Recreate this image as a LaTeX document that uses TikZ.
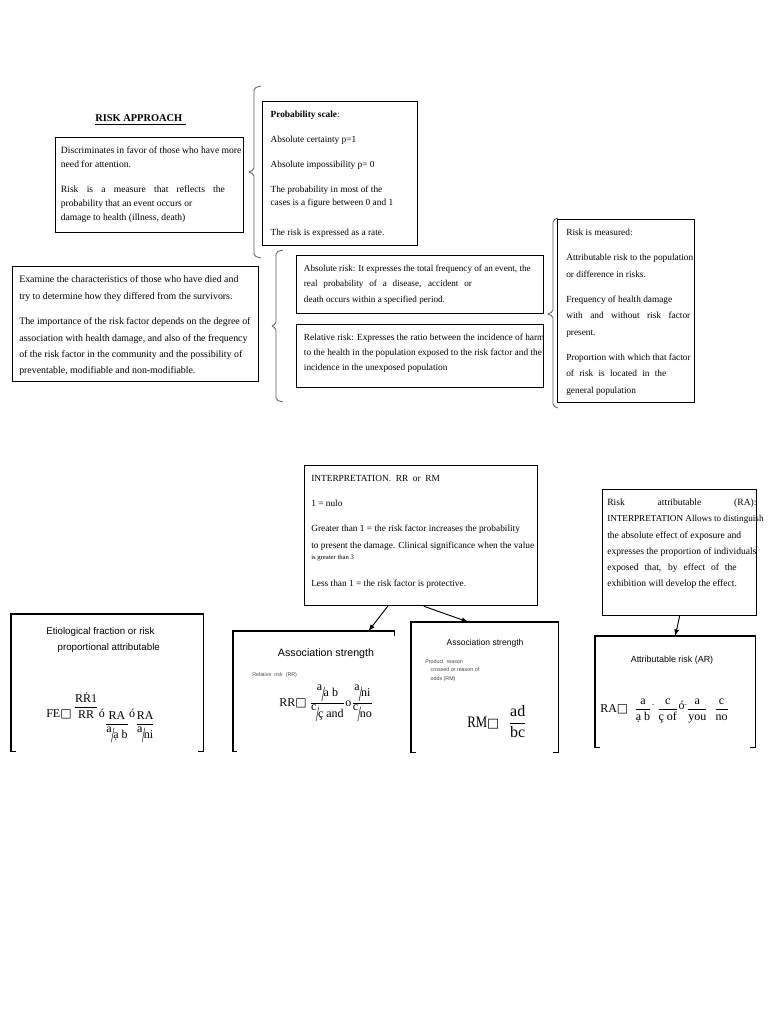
\documentclass[tikz,border=0pt]{standalone}
\usepackage{fontspec}
\usepackage{amsmath}
\usepackage{graphicx}
\setmainfont{Liberation Serif}
\newfontfamily\arial{Liberation Sans}
\newfontfamily\symfont{DejaVu Sans}
\usetikzlibrary{arrows}

\newcommand{\bodysize}[2]{\fontsize{#1}{#2}\selectfont}
\newcommand{\sq}{{\symfont\char"25A1}}
\newcommand{\frc}[2]{\ensuremath{\dfrac{\mbox{#1}}{\mbox{#2}}}}
\newcommand{\slfrac}[2]{\raisebox{.55em}{#1}\kern-.05em\raisebox{-.35em}{\scalebox{1}[1.8]{/}}\kern-.1em{#2}}

\tikzset{
  txtbox/.style n args={3}{draw, line width=0.9pt, anchor=north west, inner xsep=#3, inner ysep=4pt,
    execute at begin node={\hbox to \dimexpr#1pt*3/4-#3-#3\relax\bgroup\begin{minipage}[c][\dimexpr#2pt*3/4-8pt\relax][t]{300pt}\vspace*{3pt}},
    execute at end node={\end{minipage}\hss\egroup}},
  openbox/.style 2 args={anchor=north west, inner sep=0pt, minimum width=#1*0.75pt, minimum height=#2*0.75pt},
  outline/.style={line width=0.9pt},
  brk/.style={black!65, line width=0.6pt, rounded corners=1.5pt},
  arr/.style={line width=0.7pt, -latex},
  lbl/.style={inner sep=0pt},
}

\begin{document}
\begin{tikzpicture}[x=0.75pt, y=-0.75pt]
\useasboundingbox (0,0) rectangle (768,1024);
\fill[white] (0,0) rectangle (768,1024);

%% upper half
\node[lbl, anchor=base west, font=\bfseries\bodysize{7.8}{9}] (title) at (95,122) {\underline{RISK APPROACH\hspace{3pt}}};

\node[txtbox={188}{95}{4pt}, font=\bodysize{7.2}{10.5}] (favor) at (55,137) {%
Discriminates in favor of those who have more\\
need for attention.\\[8pt]
\makebox[123pt][s]{Risk is a measure that reflects the}\\
probability that an event occurs or\\
damage to health (illness, death)};

\node[txtbox={155}{144}{6pt}, font=\bodysize{7}{9.75}] (scale) at (262,101) {%
\textbf{Probability scale}:\\[9pt]
Absolute certainty p=1\\[9pt]
Absolute impossibility p= 0\\[9pt]
The probability in most of the\\
cases is a figure between 0 and 1\\[12.5pt]
The risk is expressed as a rate.};

\node[txtbox={246}{115}{5pt}, font=\bodysize{7.4}{12.2}] (examine) at (12,266) {%
Examine the characteristics of those who have died and\\
try to determine how they differed from the survivors.\\[7pt]
The importance of the risk factor depends on the degree of\\
association with health damage, and also of the frequency\\
of the risk factor in the community and the possibility of\\
preventable, modifiable and non-modifiable.};

\node[txtbox={247}{58}{5.5pt}, font=\bodysize{6.85}{11.6}] (absrisk) at (296,255) {%
Absolute risk: It expresses the total frequency of an event, the\\
\makebox[126pt][s]{real probability of a disease, accident or}\\
death occurs within a specified period.};

\node[txtbox={247}{63}{5.5pt}, font=\bodysize{7}{11.25}] (relrisk) at (296,324) {%
Relative risk: Expresses the ratio between the incidence of harm\\
to the health in the population exposed to the risk factor and the\\
incidence in the unexposed population};

\node[txtbox={137}{183}{6.5pt}, font=\bodysize{7}{12.4}] (measured) at (557,219) {%
Risk is measured:\\[6.4pt]
Attributable risk to the population\\
or difference in risks.\\[6.4pt]
\ Frequency of health damage\\
\makebox[93pt][s]{with and without risk factor}\\
present.\\[6.4pt]
Proportion with which that factor\\
\makebox[75pt][s]{of risk is located in the}\\
general population};

% brackets
\draw[brk] (261,86) -- (254,88) -- (254,170) -- (248,172) -- (254,174) -- (254,256) -- (261,258);
\draw[brk] (283,250) -- (276,252) -- (276,324) -- (271,326) -- (276,328) -- (276,400) -- (283,402);
\draw[brk] (558,218) -- (553,220) -- (553,312) -- (547,314) -- (553,316) -- (553,406) -- (558,408);

%% lower half
\node[txtbox={233}{140}{5pt}, font=\bodysize{7}{12.75}] (interp) at (304,465) {%
INTERPRETATION.~ RR~ or~ RM\\[6pt]
1 = nulo\\[6pt]
Greater than 1 = the risk factor increases the probability\\
to present the damage. Clinical significance when the value\\[-4pt]
{\bodysize{5}{6}is greater than 3}\\[7.5pt]
Less than 1 = the risk factor is protective.};

\node[txtbox={154}{126}{3.5pt}, font=\bodysize{7.2}{12.2}] (rainterp) at (602,489) {%
\makebox[112pt][s]{Risk attributable (RA):}\\
{\bodysize{6.85}{12.2}INTERPRETATION Allows to distinguish}\\
the absolute effect of exposure and\\
expresses the proportion of individuals\\
\makebox[97pt][s]{exposed that, by effect of the}\\
exhibition will develop the effect.};

\node[openbox={192}{137}] (etio) at (11,614) {};
\node[openbox={161}{120}] (assocrr) at (233,631) {};
\node[openbox={147}{130}] (assocrm) at (411,622) {};
\node[openbox={160}{111}] (attrib) at (595,636) {};

\foreach \b in {etio,assocrm,attrib}
  \draw[outline] ([xshift=4pt]\b.south west) -- (\b.south west) -- (\b.north west) -- (\b.north east) -- (\b.south east) -- ([xshift=-4pt]\b.south east);
\draw[outline] ([xshift=3pt]assocrr.south west) -- (assocrr.south west) -- (assocrr.north west) -- (assocrr.north east) -- ([yshift=-4pt]assocrr.north east);

\draw[arr] ([xshift=-25pt]interp.south) -- ([xshift=-19.5pt]assocrr.north east);
\draw[arr] ([xshift=2pt]interp.south) -- ([xshift=-12.4pt]assocrm.north);
\draw[arr] (rainterp.south) -- (attrib.north);

% box contents
\node[lbl, anchor=north west, align=left, font=\arial\bodysize{7.3}{12}] (etiotitle) at (46,627) {Etiological fraction or risk\\\hspace*{8.5pt}proportional attributable};
\node[lbl, anchor=base west, font=\bodysize{9}{11}] (fe) at (46,717) {FE\sq\,\raisebox{5pt}{\frc{R\.{R}1}{RR}}ó\raisebox{-8pt}{\frc{RA}{\slfrac{a}{ạ b}}}ó\raisebox{-8pt}{\frc{RA}{\slfrac{a}{ni}}}};

\node[lbl, anchor=base, font=\arial\bodysize{8}{9}] (rrtitle) at (326,656) {Association strength};
\node[lbl, anchor=west, text=black!70, font=\arial\bodysize{4}{5}] (rrname) at (252,675) {Relative\ \ risk\ \ (RR)};
\node[lbl, anchor=base west, font=\bodysize{9}{11}] (rrf) at (279,706) {RR\sq\ \frc{\slfrac{a}{a b}}{\slfrac{c}{ç and}}o\frc{\slfrac{a}{ni}}{\slfrac{c}{no}}};

\node[lbl, anchor=base, font=\arial\bodysize{6.4}{8}] (rmtitle) at (485,645) {Association strength};
\node[lbl, anchor=north west, align=left, text=black!75, font=\arial\bodysize{4}{6.4}] (rmname) at (425,659) {Product\ \ reason\\\hspace*{4pt}crossed or reason of\\\hspace*{4pt}odds (RM)};
\node[lbl, anchor=base west, font=\bodysize{12}{14}] (rmf) at (467,727) {\scalebox{0.8}[1]{RM}\scalebox{0.8}{\sq}\hspace{7pt}\frc{ad}{bc}};

\node[lbl, anchor=base, font=\arial\bodysize{6.7}{8}] (artitle) at (672,662) {Attributable risk (AR)};
\node[lbl, anchor=base west, font=\bodysize{9}{11}] (raf) at (600,712) {RA\sq\ \ \frc{a}{ạ b}\raisebox{.5em}{\tiny-}\ \frc{c}{ç of}\raisebox{.2em}{ó}\raisebox{.5em}{\tiny-}\frc{a}{you}\ \ \frc{c}{no}};
\end{tikzpicture}
\end{document}
